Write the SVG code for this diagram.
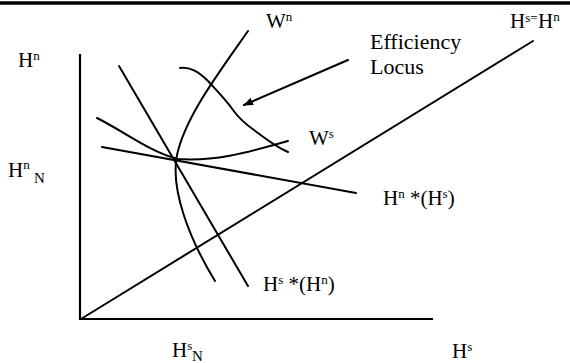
<svg xmlns="http://www.w3.org/2000/svg" width="570" height="363" viewBox="0 0 570 363">
<style>
.t{font-family:"Liberation Serif","Times New Roman",serif;font-size:21px;fill:#000}
.s{font-size:13px}
.big{font-size:22px}
.ln{fill:none;stroke:#000;stroke-width:2;stroke-linecap:round;stroke-linejoin:round}
.ax{fill:none;stroke:#000;stroke-width:2.2}
</style>
<defs>
<marker id="ah" viewBox="0 0 10 8" refX="9" refY="4" markerWidth="10" markerHeight="8" markerUnits="userSpaceOnUse" orient="auto">
<path d="M0,0 L10,4 L0,8 Z" fill="#000"/>
</marker>
</defs>
<rect width="570" height="363" fill="#fff"/>
<line x1="0" y1="3" x2="570" y2="3" stroke="#000" stroke-width="3.5"/>

<g id="connectors">
<g id="axes">
<polyline class="ax" points="80,54 80,319 433,319"/>
</g>
<line id="diagonal" class="ln" x1="81" y1="319" x2="533" y2="41"/>
<line id="hn-star" class="ln" x1="102" y1="147" x2="356" y2="193"/>
<line id="hs-star" class="ln" x1="119" y1="66" x2="248" y2="286"/>
<path id="wn-curve" class="ln" d="M248,31 C215,78 185,118 177,155 C170,190 190,240 215,281"/>
<path id="ws-curve" class="ln" d="M97,118 C125,132 150,152 178,159 C218,162 255,150 288,141"/>
<path id="eff-locus" class="ln" d="M180,68 C190,67 198,71 208,81 C218,92 226,100 233,110 C238,117 244,123 254,130 C266,139 276,147 288,152"/>
<line id="arrow" class="ln" x1="348" y1="60" x2="244" y2="105" marker-end="url(#ah)"/>
</g>

<g id="label-Hn"><text class="t" x="18" y="67">H<tspan class="s" dy="-7">n</tspan></text></g>
<g id="label-Wn"><text class="t" x="266" y="28">W<tspan class="s" dy="-7">n</tspan></text></g>
<g id="label-eff"><text class="t big" x="370" y="49">Efficiency</text><text class="t big" x="370" y="74">Locus</text></g>
<g id="label-diag"><text class="t" x="510" y="28">H<tspan class="s" dy="-6">s=</tspan><tspan dy="6" x="538">H</tspan><tspan class="s" dy="-7">n</tspan></text></g>
<g id="label-Ws"><text class="t" x="309" y="145">W<tspan class="s" dy="-7">s</tspan></text></g>
<g id="label-HnN"><text class="t" x="8" y="177">H<tspan class="s" dy="-8">n</tspan><tspan x="34" dy="14" font-size="15">N</tspan></text></g>
<g id="label-HnStar"><text class="t" x="383" y="205">H<tspan class="s" dy="-7">n</tspan><tspan dy="7"> *(H</tspan><tspan class="s" dy="-7">s</tspan><tspan dy="7">)</tspan></text></g>
<g id="label-HsStar"><text class="t" x="263" y="291">H<tspan class="s" dy="-7">s</tspan><tspan dy="7"> *(H</tspan><tspan class="s" dy="-7">n</tspan><tspan dy="7">)</tspan></text></g>
<g id="label-HsN"><text class="t" x="172" y="357">H<tspan class="s" dy="-7">s</tspan><tspan x="192" dy="11" font-size="15">N</tspan></text></g>
<g id="label-Hs"><text class="t" x="452" y="358">H<tspan class="s" dy="-7">s</tspan></text></g>
</svg>
